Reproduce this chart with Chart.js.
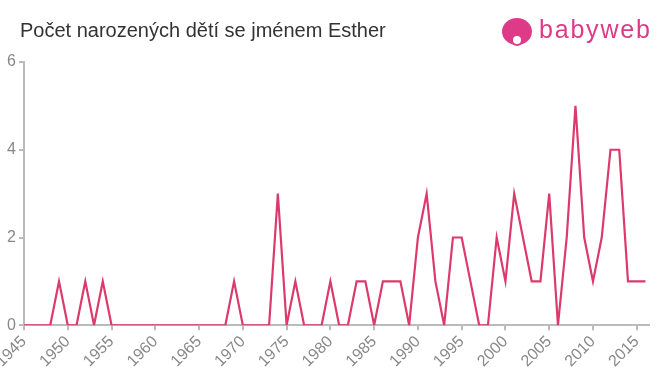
<!DOCTYPE html>
<html>
<head>
<meta charset="utf-8">
<script src="https://cdn.jsdelivr.net/npm/chart.js@4"></script>
<style>
  body { margin: 0; background: #fff; }
  #wrap { position: relative; width: 660px; height: 375px; }
  #title {
    position: absolute; left: 20px; top: 19px;
    font: 20px "Liberation Sans", Arial, sans-serif; color: #333;
  }
  #logo {
    position: absolute; left: 502px; top: 18px; height: 30px;
    font: 25px "Liberation Sans", Arial, sans-serif; color: #dd3a88;
  }
  #logo .icon {
    position: absolute; left: 0; top: 0; width: 30px; height: 27px;
    border-radius: 50%; background: #dd3a88;
  }
  #logo .face {
    position: absolute; left: 9px; top: 16px; width: 12px; height: 12px;
    border-radius: 50%; background: #fff; border: 2.5px solid #dd3a88;
    box-sizing: border-box;
  }
  #logo .txt { position: absolute; left: 37px; top: -3px; letter-spacing: 1.8px; }
  #chart { position: absolute; left: 0; top: 0; }
</style>
</head>
<body>
<div id="wrap">
  <canvas id="chart" width="660" height="375"></canvas>
  <div id="title">Počet narozených dětí se jménem Esther</div>
  <div id="logo"><div class="icon"></div><div class="face"></div><div class="txt">babyweb</div></div>
</div>
<script>
const years = [
  1945, 1946, 1947, 1948, 1949, 1950, 1951, 1952, 1953, 1954,
  1955, 1956, 1957, 1958, 1959, 1960, 1961, 1962, 1963, 1964,
  1965, 1966, 1967, 1968, 1969, 1970, 1971, 1972, 1973, 1974,
  1975, 1976, 1977, 1978, 1979, 1980, 1981, 1982, 1983, 1984,
  1985, 1986, 1987, 1988, 1989, 1990, 1991, 1992, 1993, 1994,
  1995, 1996, 1997, 1998, 1999, 2000, 2001, 2002, 2003, 2004,
  2005, 2006, 2007, 2008, 2009, 2010, 2011, 2012, 2013, 2014,
  2015, 2016,
];
const births = [
  0, 0, 0, 0, 1, 0, 0, 1, 0, 1,
  0, 0, 0, 0, 0, 0, 0, 0, 0, 0,
  0, 0, 0, 0, 1, 0, 0, 0, 0, 3,
  0, 1, 0, 0, 0, 1, 0, 0, 1, 1,
  0, 1, 1, 1, 0, 2, 3, 1, 0, 2,
  2, 1, 0, 0, 2, 1, 3, 2, 1, 1,
  3, 0, 2, 5, 2, 1, 2, 4, 4, 1,
  1, 1,
];
const xTicks = [1945, 1950, 1955, 1960, 1965, 1970, 1975, 1980, 1985, 1990, 1995, 2000, 2005, 2010, 2015];
const yTicks = [0, 2, 4, 6];

const axisColor = "#bbbbbb";
const tickFont = { family: "'Liberation Sans', Arial, sans-serif", size: 16 };

const ctx = document.getElementById("chart").getContext("2d");
new Chart(ctx, {
  type: "line",
  data: {
    datasets: [
      {
        data: years.map((y, i) => ({ x: y, y: births[i] })),
        borderColor: "#dc3a6c",
        borderWidth: 2.2,
        pointRadius: 0,
        tension: 0,
        fill: false,
      },
    ],
  },
  options: {
    responsive: false,
    animation: false,
    events: [],
    layout: { padding: { top: 62, right: 11, bottom: 2, left: 0 } },
    plugins: { legend: { display: false }, tooltip: { enabled: false } },
    scales: {
      x: {
        type: "linear",
        min: 1945,
        max: 2016.4,
        afterBuildTicks: (scale) => {
          scale.ticks = xTicks.map((v) => ({ value: v }));
        },
        afterFit: (scale) => {
          scale.paddingLeft = 0;
          scale.paddingRight = 0;
        },
        ticks: {
          autoSkip: false,
          minRotation: 45,
          maxRotation: 45,
          color: "#888",
          font: tickFont,
          padding: 2,
          callback: (v) => String(v),
        },
        grid: { drawOnChartArea: false, color: axisColor, tickLength: 5, lineWidth: 2 },
        border: { color: axisColor, width: 2 },
      },
      y: {
        min: 0,
        max: 6,
        afterBuildTicks: (scale) => {
          scale.ticks = yTicks.map((v) => ({ value: v }));
        },
        afterFit: (scale) => {
          scale.width = 24;
        },
        ticks: { color: "#888", font: tickFont, padding: 3 },
        grid: { drawOnChartArea: false, color: axisColor, tickLength: 5, lineWidth: 2 },
        border: { color: axisColor, width: 2 },
      },
    },
  },
});
</script>
</body>
</html>
